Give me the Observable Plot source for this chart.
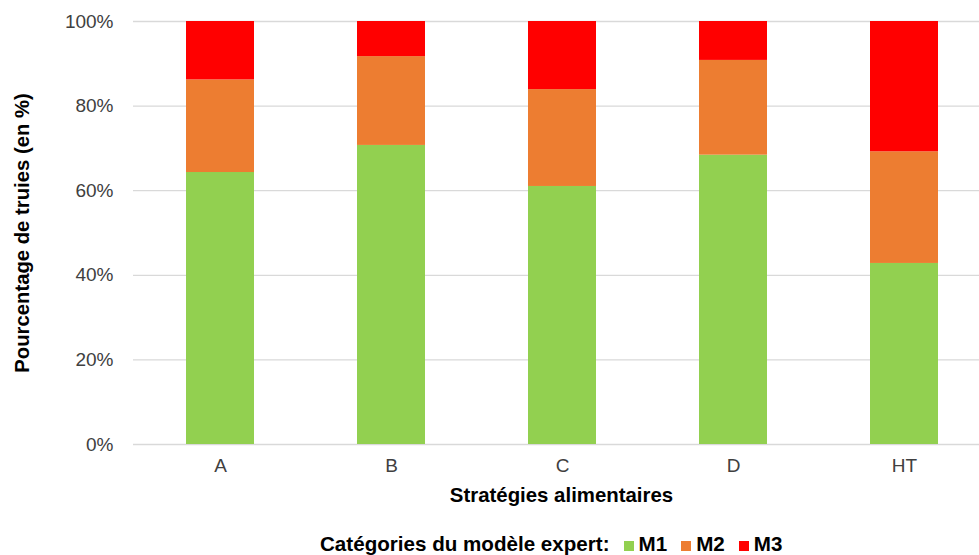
<!DOCTYPE html>
<html>
<head>
<meta charset="utf-8">
<script src="https://cdn.jsdelivr.net/npm/d3@7"></script>
<script src="https://cdn.jsdelivr.net/npm/@observablehq/plot@0.6"></script>
<style>
  html, body { margin: 0; padding: 0; background: #fff; }
  #wrap { position: relative; width: 979px; height: 555px; font-family: "Liberation Sans", Arial, sans-serif; }
  #legend { position: absolute; left: 320px; top: 532px; display: flex; align-items: center; font-weight: bold; font-size: 20.6px; color: #000; white-space: nowrap; }
  #legend .sw { display: inline-block; width: 10px; height: 10px; margin-left: 14px; margin-right: 5px; position: relative; top: 2px; }
</style>
</head>
<body>
<div id="wrap"></div>
<script>
const categories = ["A", "B", "C", "D", "HT"];
const seriesNames = ["M1", "M2", "M3"];
const m1 = [0.643, 0.707, 0.610, 0.684, 0.428];
const m2 = [0.219, 0.210, 0.229, 0.224, 0.264];
const m3 = [0.138, 0.083, 0.161, 0.092, 0.308];
const colors = ["#92D050", "#ED7D31", "#FF0000"];
const yTicks = [0, 0.2, 0.4, 0.6, 0.8, 1];
const xTitle = "Stratégies alimentaires";
const yTitle = "Pourcentage de truies (en %)";
const legendTitle = "Catégories du modèle expert:";

const seriesValues = [m1, m2, m3];
const data = [];
seriesNames.forEach((s, si) => {
  categories.forEach((c, ci) => data.push({cat: c, series: s, value: seriesValues[si][ci]}));
});

const chart = Plot.plot({
  width: 979,
  height: 522,
  marginLeft: 133,
  marginRight: 0,
  marginTop: 21,
  marginBottom: 78,
  style: {fontFamily: "'Liberation Sans', Arial, sans-serif", fontSize: "19px", color: "#000", background: "#fff"},
  x: {domain: categories, range: [133, 992], paddingInner: 0.6, paddingOuter: 0.3, align: 0.5, label: null},
  y: {domain: [0, 1], label: null},
  color: {domain: seriesNames, range: colors},
  marks: [
    Plot.gridY(yTicks, {stroke: "#d9d9d9", strokeOpacity: 1, strokeWidth: 1.3}),
    Plot.barY(data, {x: "cat", y: "value", fill: "series"}),
    Plot.axisY(yTicks, {tickSize: 0, tickPadding: 20, tickFormat: d3.format(".0%"), fill: "#404040", label: null}),
    Plot.axisX({tickSize: 0, tickPadding: 14, fill: "#404040", label: null}),
    Plot.text([xTitle], {text: d => d, frameAnchor: "bottom", dy: 51, dx: 5, fontWeight: "bold", fontSize: 20.4, fill: "#000", lineAnchor: "middle", textAnchor: "middle"}),
    Plot.text([yTitle], {text: d => d, frameAnchor: "left", dx: -111, rotate: -90, fontWeight: "bold", fontSize: 20.3, fill: "#000", lineAnchor: "middle", textAnchor: "middle"})
  ]
});

const wrap = document.getElementById("wrap");
wrap.appendChild(chart);

const legend = document.createElement("div");
legend.id = "legend";
const t = document.createElement("span");
t.textContent = legendTitle;
legend.appendChild(t);
seriesNames.forEach((s, i) => {
  const sw = document.createElement("span");
  sw.className = "sw";
  sw.style.background = colors[i];
  legend.appendChild(sw);
  const lab = document.createElement("span");
  lab.textContent = s;
  legend.appendChild(lab);
});
wrap.appendChild(legend);
</script>
</body>
</html>
